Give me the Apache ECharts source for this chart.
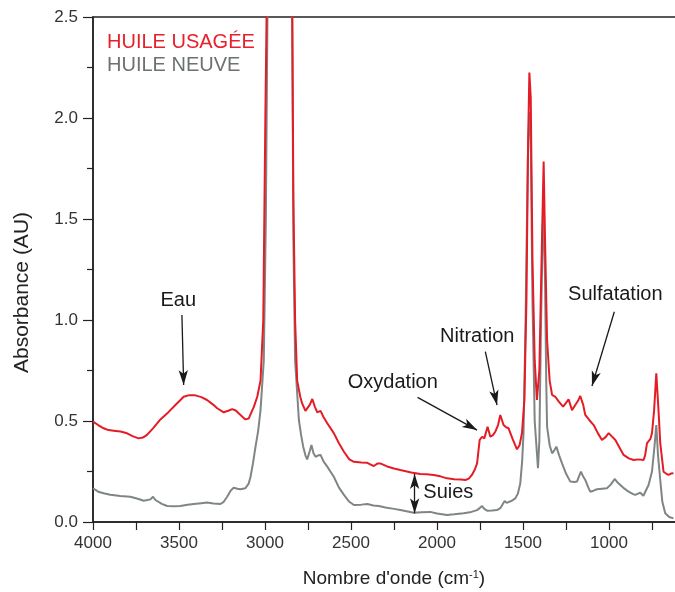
<!DOCTYPE html>
<html>
<head>
<meta charset="utf-8">
<title>Spectre IR huile</title>
<script src="https://cdn.jsdelivr.net/npm/echarts@6/dist/echarts.min.js"></script>
<style>
html, body { margin: 0; padding: 0; background: #fff; }
#main { width: 675px; height: 592px; }
</style>
</head>
<body>
<div id="main"></div>
<script>
// huile usagée (rouge)
var usedWn = [4000,3970,3938,3910,3880,3840,3802,3770,3735,3710,3686,3650,3608,3560,3521,3490,3473,3440,3405,3370,3337,3300,3278,3240,3210,3191,3170,3153,3130,3114,3095,3084,3065,3045,3026,3010,2998,2988,2960,2925,2890,2870,2852,2845,2835,2825,2813,2795,2784,2765,2755,2740,2725,2710,2696,2677,2660,2638,2600,2570,2541,2510,2483,2440,2405,2380,2367,2345,2330,2290,2250,2213,2150,2097,2060,2020,1980,1942,1900,1860,1835,1815,1797,1780,1767,1752,1738,1725,1706,1690,1675,1661,1645,1632,1613,1600,1584,1560,1535,1520,1506,1492,1480,1470,1463,1455,1445,1432,1419,1405,1392,1380,1372,1360,1345,1331,1312,1295,1283,1267,1250,1235,1215,1196,1180,1167,1150,1138,1115,1089,1065,1041,1020,1002,985,963,940,915,885,857,830,799,790,779,760,750,738,725,712,702,683,668,654,640,625];
var usedAbs = [0.497,0.48,0.464,0.455,0.452,0.448,0.439,0.425,0.414,0.418,0.431,0.465,0.508,0.545,0.579,0.605,0.62,0.628,0.627,0.618,0.604,0.58,0.563,0.543,0.552,0.559,0.552,0.538,0.52,0.508,0.512,0.521,0.57,0.62,0.70,1.0,2.0,2.7,3.5,4.0,3.2,3.0,3.8,3.0,1.6,1.0,0.70,0.62,0.587,0.55,0.543,0.58,0.609,0.57,0.543,0.55,0.52,0.489,0.44,0.39,0.348,0.31,0.298,0.295,0.293,0.282,0.277,0.29,0.29,0.275,0.265,0.257,0.245,0.238,0.236,0.233,0.226,0.216,0.212,0.21,0.208,0.215,0.233,0.26,0.29,0.406,0.422,0.414,0.472,0.422,0.43,0.447,0.48,0.53,0.48,0.47,0.464,0.41,0.36,0.38,0.44,0.604,1.1,1.9,2.225,2.1,1.3,0.8,0.604,0.75,1.3,1.784,1.4,0.9,0.7,0.629,0.62,0.6,0.587,0.571,0.59,0.607,0.554,0.579,0.6,0.624,0.58,0.53,0.505,0.48,0.44,0.406,0.42,0.44,0.425,0.406,0.37,0.332,0.315,0.307,0.31,0.307,0.33,0.39,0.41,0.44,0.55,0.736,0.55,0.39,0.249,0.24,0.233,0.24,0.241];

// huile neuve (gris)
var newWn = [4000,3970,3938,3900,3841,3783,3740,3705,3666,3651,3637,3600,3569,3530,3492,3450,3414,3370,3337,3300,3259,3240,3220,3200,3182,3160,3143,3114,3095,3084,3070,3055,3040,3026,3007,2995,2985,2960,2925,2890,2870,2852,2845,2835,2825,2803,2790,2778,2765,2755,2740,2730,2718,2706,2690,2677,2660,2638,2600,2570,2541,2510,2483,2440,2405,2370,2338,2300,2250,2213,2170,2136,2090,2039,2000,1942,1900,1845,1800,1767,1750,1738,1725,1709,1680,1651,1630,1607,1595,1584,1565,1545,1530,1516,1505,1497,1485,1472,1463,1455,1445,1432,1413,1405,1395,1382,1372,1365,1360,1345,1331,1318,1306,1290,1273,1250,1225,1200,1186,1175,1163,1150,1138,1120,1109,1090,1070,1040,1012,990,967,950,934,910,886,860,847,818,800,789,770,750,735,725,715,702,690,673,650,625];
var newAbs = [0.167,0.15,0.142,0.135,0.129,0.125,0.115,0.105,0.112,0.125,0.109,0.09,0.079,0.078,0.079,0.085,0.089,0.093,0.096,0.092,0.089,0.1,0.125,0.155,0.17,0.165,0.162,0.167,0.19,0.224,0.29,0.373,0.45,0.554,0.80,1.5,2.6,3.4,3.9,3.1,2.9,3.7,3.0,1.4,0.8,0.505,0.43,0.373,0.33,0.31,0.35,0.381,0.34,0.323,0.33,0.332,0.3,0.274,0.224,0.17,0.134,0.1,0.084,0.086,0.089,0.082,0.079,0.072,0.065,0.059,0.052,0.046,0.048,0.05,0.042,0.035,0.038,0.043,0.05,0.059,0.07,0.079,0.065,0.056,0.057,0.059,0.07,0.104,0.095,0.089,0.105,0.117,0.14,0.19,0.3,0.44,1.0,1.8,2.03,1.9,1.1,0.5,0.266,0.4,1.0,1.6,1.2,0.7,0.472,0.38,0.34,0.355,0.373,0.33,0.29,0.24,0.2,0.198,0.2,0.225,0.249,0.225,0.208,0.17,0.15,0.155,0.162,0.165,0.167,0.185,0.213,0.195,0.183,0.165,0.15,0.138,0.134,0.145,0.13,0.125,0.183,0.25,0.38,0.48,0.33,0.208,0.1,0.043,0.025,0.018];

// annotations : texte, position du texte, début et pointe de la flèche
var noteText = ['Eau', 'Oxydation', 'Nitration', 'Sulfatation', 'Suies'];
var notePos = [[3504, 1.097], [2257, 0.693], [1766, 0.918], [963, 1.124], [1934, 0.144]];
var arrowFrom = [[3483, 1.025], [2113, 0.617], [1719, 0.843], [969, 1.041], [2130, 0.238]];
var arrowTo = [[3473, 0.678], [1767, 0.455], [1651, 0.579], [1099, 0.673], [2130, 0.043]];

(function(){
    var font = "'Liberation Sans', Arial, sans-serif";
    var red = '#e41c25';
    var gray = '#7f8585';
    var ink = '#222';

    function pairs(xs, ys) {
        return xs.map(function (x, i) { return [x, ys[i]]; });
    }

    var arrows = arrowFrom.map(function (p, i) {
        var a = { coord: p };
        if (noteText[i] === 'Suies') a.symbol = 'arrow';
        return [a, { coord: arrowTo[i] }];
    });

    var notes = notePos.map(function (p, i) {
        return [p[0], p[1], noteText[i]];
    });

    var myChart = echarts.init(document.getElementById('main'));
    myChart.setOption({
        animation: false,
        textStyle: { fontFamily: font },
        // la zone de tracé déborde à droite du cadre (axe coupé vers 610 cm-1)
        grid: {
            left: 93, top: 17, width: 602, height: 505,
            outerBoundsMode: 'none',
            containLabel: false,
            show: true, borderColor: ink, borderWidth: 1.5
        },
        legend: {
            data: [
                { name: 'HUILE USAGÉE', textStyle: { color: '#e8202b' } },
                { name: 'HUILE NEUVE', textStyle: { color: '#6c7172' } }
            ],
            icon: 'none',
            orient: 'vertical',
            left: 102, top: 31,
            padding: 0,
            itemWidth: 0, itemGap: 0,
            textStyle: { fontSize: 20, lineHeight: 23, fontFamily: font }
        },
        xAxis: {
            type: 'value',
            inverse: true,
            min: 500, max: 4000, interval: 500,
            name: "Nombre d'onde (cm{sup|-1})",
            nameLocation: 'middle',
            nameGap: 47,
            nameTextStyle: {
                fontSize: 19, color: ink, fontFamily: font,
                rich: { sup: { fontSize: 11, verticalAlign: 'top', padding: [0, 0, 8, 0], color: ink, fontFamily: font } }
            },
            axisLine: { lineStyle: { color: ink, width: 1.5 } },
            axisTick: { length: 8, lineStyle: { color: ink, width: 1.2 } },
            minorTick: { show: true, splitNumber: 2, length: 8, lineStyle: { color: ink, width: 1.2 } },
            splitLine: { show: false },
            axisLabel: {
                fontSize: 17, color: '#333', margin: 13,
                formatter: function (v) { return v < 1000 ? '' : String(v); }
            }
        },
        yAxis: {
            type: 'value',
            min: 0, max: 2.5, interval: 0.5,
            name: 'Absorbance (AU)',
            nameLocation: 'middle',
            nameGap: 60,
            nameTextStyle: { fontSize: 21, color: ink, fontFamily: font, padding: [0, 46, 0, 0] },
            axisLine: { lineStyle: { color: ink, width: 1.5 } },
            axisTick: { length: 10, lineStyle: { color: ink, width: 1.2 } },
            minorTick: { show: true, splitNumber: 2, length: 6, lineStyle: { color: ink, width: 1.2 } },
            splitLine: { show: false },
            axisLabel: {
                fontSize: 17, color: '#333', margin: 15,
                formatter: function (v) { return v.toFixed(1); }
            }
        },
        series: [{
            name: 'HUILE NEUVE',
            type: 'line',
            data: pairs(newWn, newAbs),
            showSymbol: false,
            color: gray,
            lineStyle: { width: 2, color: gray },
            z: 2
        }, {
            name: 'HUILE USAGÉE',
            type: 'line',
            data: pairs(usedWn, usedAbs),
            showSymbol: false,
            color: red,
            lineStyle: { width: 2, color: red },
            z: 3
        }, {
            name: 'notes',
            type: 'scatter',
            data: notes,
            symbolSize: 1,
            itemStyle: { color: 'rgba(0,0,0,0)', opacity: 1 },
            silent: true,
            z: 4,
            label: {
                show: true,
                position: 'inside',
                fontSize: 20,
                color: '#1a1a1a',
                opacity: 1,
                textBorderWidth: 0,
                fontFamily: font,
                formatter: function (p) { return p.value[2]; }
            },
            markLine: {
                silent: true,
                symbol: ['none', 'arrow'],
                symbolSize: [7, 15],
                label: { show: false },
                lineStyle: { color: '#1a1a1a', width: 1.3, type: 'solid', opacity: 1 },
                data: arrows
            }
        }]
    });
})();
</script>
</body>
</html>
